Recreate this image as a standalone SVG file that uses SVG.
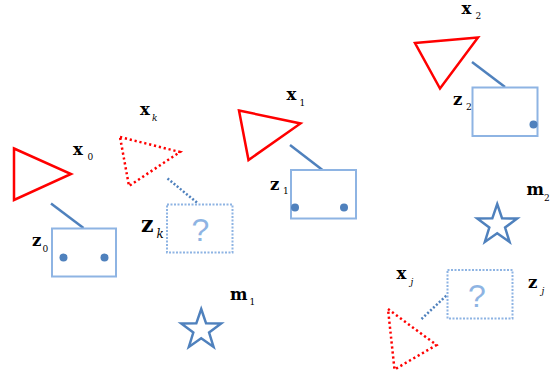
<svg xmlns="http://www.w3.org/2000/svg" width="551" height="380" viewBox="0 0 551 380">
<style>
.tri{fill:none;stroke:#ff0000;stroke-width:2.5;stroke-linejoin:miter}
.tri-d{fill:none;stroke:#ff0000;stroke-width:2.5;stroke-dasharray:2.2 2.8}
.box{fill:#ffffff;stroke:#8eb4e3;stroke-width:2}
.box-d{fill:#ffffff;stroke:#8eb4e3;stroke-width:2;stroke-dasharray:2 1.5}
.dot{fill:#4f81bd}
.conn{stroke:#4f81bd;stroke-width:2.5;fill:none}
.conn-d{stroke:#4f81bd;stroke-width:2.5;fill:none;stroke-dasharray:2 2}
.star{fill:none;stroke:#4f81bd;stroke-width:2.5;stroke-linejoin:miter}
.lbl{font-family:"DejaVu Serif","Liberation Serif",serif;font-weight:bold;font-size:16.5px;fill:#000}
.sub{font-family:"DejaVu Serif","Liberation Serif",serif;font-size:9px;fill:#000}
.subi{font-family:"DejaVu Serif","Liberation Serif",serif;font-style:italic;font-size:9px;fill:#000}
.q{font-family:"Liberation Sans","DejaVu Sans",sans-serif;font-size:32px;fill:#8eb4e3;text-anchor:middle}
</style>
<defs>
<path id="star" d="M0,-21 L4.88,-6.71 L19.97,-6.49 L7.89,2.56 L12.34,16.99 L0,8.3 L-12.34,16.99 L-7.89,2.56 L-19.97,-6.49 L-4.88,-6.71 Z"/>
</defs>
<g id="connectors">
<line class="conn" x1="51" y1="203.5" x2="83.5" y2="228"/>
<line class="conn-d" x1="167.5" y1="178.5" x2="197.5" y2="203"/>
<line class="conn" x1="290" y1="145" x2="322.5" y2="170"/>
<line class="conn" x1="472" y1="62" x2="505" y2="87"/>
<line class="conn-d" x1="421.5" y1="319" x2="447" y2="295"/>
</g>
<g id="x0">
<polygon class="tri" points="14,148.5 71,174 14,200"/>
<text class="lbl" x="73" y="155">x</text><text class="sub" x="87.5" y="160">0</text>
</g>
<g id="z0">
<rect class="box" x="52" y="228.5" width="64" height="48"/>
<circle class="dot" cx="63.5" cy="257.5" r="4"/>
<circle class="dot" cx="104.5" cy="257.5" r="4"/>
<text class="lbl" x="32" y="246">z</text><text class="sub" x="42.5" y="252">0</text>
</g>
<g id="xk">
<polygon class="tri-d" points="120,137 180,152 129,186"/>
<text class="lbl" x="140" y="115">x</text><text class="subi" x="152" y="121">k</text>
</g>
<g id="zk">
<rect class="box-d" x="167" y="204.5" width="65.5" height="48"/>
<text class="q" x="200.5" y="240.5">?</text>
<text class="lbl" x="141" y="232" style="font-size:22px">z</text><text class="subi" x="156.5" y="238" style="font-size:12px">k</text>
</g>
<g id="x1">
<polygon class="tri" points="239,110.5 300.5,123.5 248.5,160"/>
<text class="lbl" x="286.5" y="100">x</text><text class="sub" x="299.5" y="106">1</text>
</g>
<g id="z1">
<rect class="box" x="291" y="170" width="65" height="48.5"/>
<circle class="dot" cx="295" cy="207.5" r="4"/>
<circle class="dot" cx="344" cy="207.5" r="4"/>
<text class="lbl" x="270" y="190">z</text><text class="sub" x="283" y="194">1</text>
</g>
<g id="x2">
<polygon class="tri" points="415,43 478,37.5 440,88.5"/>
<text class="lbl" x="461.5" y="13.5">x</text><text class="sub" x="475.5" y="19">2</text>
</g>
<g id="z2">
<rect class="box" x="472.5" y="87.5" width="65" height="48.5"/>
<circle class="dot" cx="533.5" cy="124.5" r="4"/>
<text class="lbl" x="453" y="105">z</text><text class="sub" x="466" y="110">2</text>
</g>
<g id="xj">
<polygon class="tri-d" points="388,309 436.5,345 394.5,369.5"/>
<text class="lbl" x="396.5" y="279">x</text><text class="subi" x="410.5" y="285">j</text>
</g>
<g id="zj">
<rect class="box-d" x="447.5" y="270" width="65" height="48.5"/>
<text class="q" x="477" y="307">?</text>
<text class="lbl" x="528" y="288">z</text><text class="subi" x="541.5" y="294">j</text>
</g>
<g id="m1">
<use href="#star" class="star" transform="translate(201.2,330)"/>
<text class="lbl" x="230" y="300">m</text><text class="sub" x="249.5" y="305">1</text>
</g>
<g id="m2">
<use href="#star" class="star" transform="translate(497.2,225)"/>
<text class="lbl" x="526.5" y="195">m</text><text class="sub" x="544" y="201">2</text>
</g>
</svg>
